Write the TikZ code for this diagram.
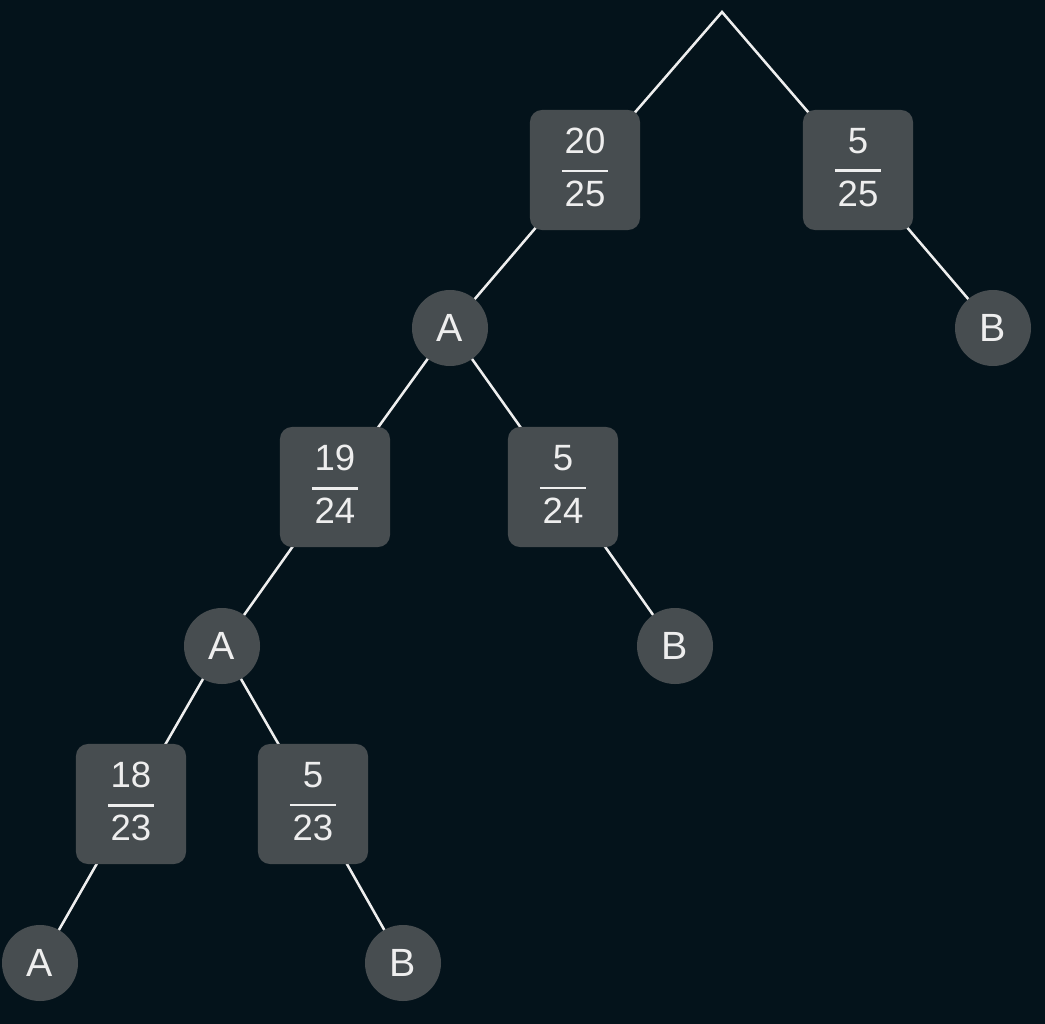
\documentclass[tikz,border=0pt]{standalone}
\usepackage{amsmath}
\usepackage{fontspec}
\setmainfont{Liberation Sans}
\usetikzlibrary{backgrounds}
\definecolor{bgdark}{HTML}{04131B}
\definecolor{boxgrey}{HTML}{474D50}
\definecolor{inkwhite}{HTML}{EEEEEE}
\newcommand{\frc}[2]{\raisebox{1.8pt}[\height][\depth]{$\genfrac{}{}{2pt}{0}%
  {\mbox{\hspace{2pt}\raisebox{1.8pt}{#1}\hspace{2pt}}}%
  {\mbox{\hspace{2pt}\raisebox{-1.8pt}{#2}\hspace{2pt}}}$}}

\begin{document}
\begin{tikzpicture}[
    x=0.025cm, y=-0.025cm,
    probbox/.style={rectangle, rounded corners=0.3cm, fill=boxgrey, text=inkwhite, minimum width=2.75cm, minimum height=3cm, inner sep=0pt, font=\fontsize{26}{31}\selectfont},
    leaf/.style={circle, fill=boxgrey, text=inkwhite, minimum size=1.9cm, inner sep=0pt, font=\fontsize{28}{33}\selectfont},
    branch/.style={draw=inkwhite, line width=1.8pt}
]
\coordinate (root) at (722,12);

\node[probbox] (p1) at (585,170) {\frc{20}{25}};
\node[probbox] (p2) at (858,170) {\frc{5}{25}};
\node[leaf] (a1) at (450,328) {A};
\node[leaf] (b1) at (993,328) {B};

\node[probbox] (p3) at (335,487) {\frc{19}{24}};
\node[probbox] (p4) at (563,487) {\frc{5}{24}};
\node[leaf] (a2) at (222,646) {A};
\node[leaf] (b2) at (675,646) {B};

\node[probbox] (p5) at (131,804) {\frc{18}{23}};
\node[probbox] (p6) at (313,804) {\frc{5}{23}};
\node[leaf] (a3) at (40,963) {A};
\node[leaf] (b3) at (403,963) {B};

\begin{scope}[on background layer]
\fill[bgdark] (0,0) rectangle (1045,1024);
\draw[branch] (p1.center) -- (root) -- (p2.center);
\draw[branch] (p1.center) -- (a1.center);
\draw[branch] (p2.center) -- (b1.center);
\draw[branch] (a1.center) -- (p3.center);
\draw[branch] (a1.center) -- (p4.center);
\draw[branch] (p4.center) -- (b2.center);
\draw[branch] (p3.center) -- (a2.center);
\draw[branch] (a2.center) -- (p5.center);
\draw[branch] (a2.center) -- (p6.center);
\draw[branch] (p5.center) -- (a3.center);
\draw[branch] (p6.center) -- (b3.center);
\end{scope}
\end{tikzpicture}
\end{document}
